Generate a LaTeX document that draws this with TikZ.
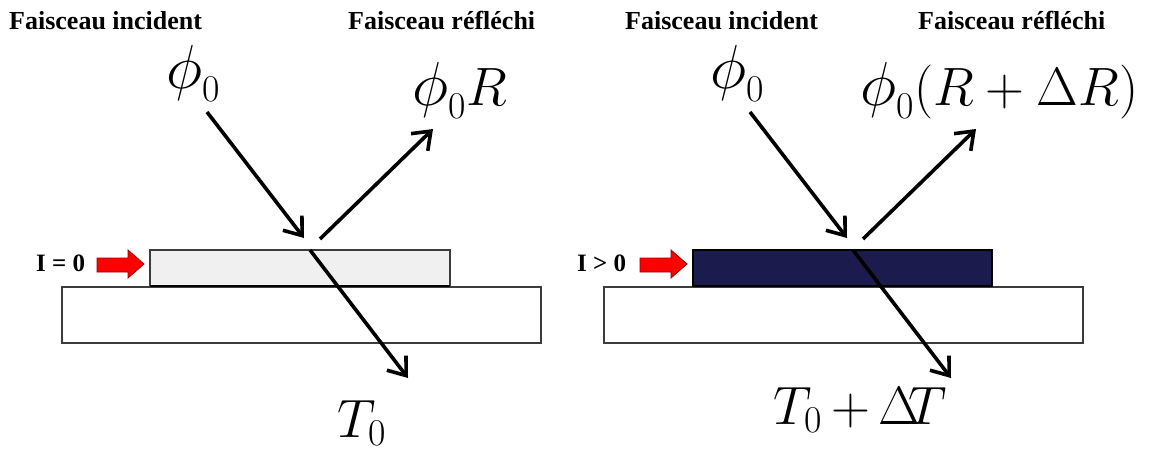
\RequirePackage{fix-cm}
\documentclass[tikz,border=0pt]{standalone}
\usepackage{fontspec}
\setmainfont{Liberation Serif}
\usetikzlibrary{arrows.meta}
\definecolor{navy}{RGB}{28,27,78}
\definecolor{filmgray}{RGB}{240,240,240}
\definecolor{edgegray}{RGB}{60,60,60}
\definecolor{darkred}{RGB}{150,0,0}
\newcommand{\bphi}{\mathord{\scalebox{1.15}{$\phi$}}}
\tikzset{
  ttl/.style={font=\fontsize{26}{30}\selectfont\bfseries, anchor=base west, inner sep=0pt},
  cur/.style={font=\fontsize{25}{28}\selectfont\bfseries, anchor=base west, inner sep=0pt},
  lab/.style={font=\fontsize{54}{60}\selectfont, anchor=base west, inner sep=0pt},
  beam/.style={line width=3.6pt, -{Straight Barb[length=16pt,width=24pt]}},
  layer/.style={draw=edgegray, line width=1.6pt},
  redarrow/.style={fill=red, draw=darkred, line width=0.8pt, line join=miter},
}
\begin{document}
\begin{tikzpicture}[x=1pt,y=-1pt]
\path[use as bounding box] (0,0) rectangle (1150,452);
% ---------- left panel ----------
\node[ttl] (tiL) at (9,30) {Faisceau incident};
\node[ttl] (trL) at (348,30) {Faisceau réfléchi};
\node[lab] (phiL) at (166,88) {$\bphi_0$};
\node[lab] (phiRL) at (412,105) {$\bphi_0 R$};
\node[lab] (TL) at (337,437) {$T_0$};
\node[cur] (IL) at (36,271) {I = 0};
\draw[layer, fill=white] (62,287) rectangle (541,343);
\draw[layer, fill=filmgray] (150,250) rectangle (450,286);
\draw[line width=2.6pt] (150,286) -- (450,286);
\draw[redarrow] (97,258) -- (128,258) -- (128,250) -- (144,264) -- (128,278) -- (128,272) -- (97,272) -- cycle;
\coordinate (inAL) at (207,112);
\coordinate (inBL) at (304,238);
\coordinate (rfAL) at (320,239);
\coordinate (rfBL) at (433,129);
\coordinate (trAL) at (310,250);
\coordinate (trBL) at (408,378);
\draw[beam] (inAL) -- (inBL);
\draw[beam] (rfAL) -- (rfBL);
\draw[beam] (trAL) -- (trBL);
% ---------- right panel ----------
\node[ttl] (tiR) at (625,30) {Faisceau incident};
\node[ttl] (trR) at (918,30) {Faisceau réfléchi};
\node[lab] (phiR) at (710,88) {$\bphi_0$};
\node[lab] (phiRR) at (860,105) {$\bphi_0(R+\Delta R)$};
\node[lab] (TR) at (773,424) {$T_0\mkern3mu{+}\mkern3mu\Delta\mkern-4mu T$};
\node[cur] (IR) at (577,271) {I > 0};
\draw[layer, fill=white] (604,287) rectangle (1083,343);
\draw[layer, draw=black, fill=navy] (693,250) rectangle (992,286);
\draw[line width=2.6pt] (693,286) -- (992,286);
\draw[redarrow] (640,258) -- (671,258) -- (671,250) -- (687,264) -- (671,278) -- (671,272) -- (640,272) -- cycle;
\coordinate (inAR) at (750,112);
\coordinate (inBR) at (847,238);
\coordinate (rfAR) at (863,239);
\coordinate (rfBR) at (976,129);
\coordinate (trAR) at (853,250);
\coordinate (trBR) at (951,378);
\draw[beam] (inAR) -- (inBR);
\draw[beam] (rfAR) -- (rfBR);
\draw[beam] (trAR) -- (trBR);
\end{tikzpicture}
\end{document}
